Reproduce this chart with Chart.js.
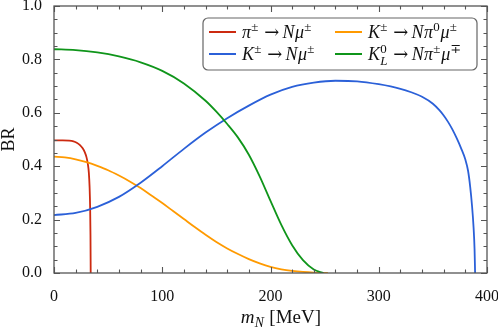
<!DOCTYPE html>
<html>
<head>
<meta charset="utf-8">
<script src="https://cdn.jsdelivr.net/npm/chart.js@4"></script>
<style>
  html, body { margin: 0; padding: 0; background: #fff; }
  canvas { display: block; }
</style>
</head>
<body>
<canvas id="chart" width="498" height="331"></canvas>
<script>
// pi -> N mu
const xPi  = [0, 8, 14, 18, 21, 24, 26.5, 28.5, 30, 31.2, 32.2, 32.9, 33.4, 33.7, 33.9];
const brPi = [0.497, 0.497, 0.496, 0.493, 0.488, 0.479, 0.467, 0.452, 0.434, 0.41, 0.375, 0.32, 0.24, 0.14, 0];

// K -> N pi0 mu
const xK3  = [0, 10, 20, 30, 40, 50, 60, 70, 80, 90, 100, 110, 120, 130, 140, 150, 160, 170, 180, 190, 200, 210, 220, 230, 240, 250, 253];
const brK3 = [0.436, 0.433, 0.426, 0.415, 0.401, 0.385, 0.365, 0.343, 0.318, 0.29, 0.262, 0.232, 0.202, 0.172, 0.143, 0.116, 0.092, 0.071, 0.052, 0.036, 0.023, 0.014, 0.008, 0.004, 0.0015, 0.0003, 0];

// K -> N mu
const xK2  = [0, 20, 40, 60, 80, 100, 120, 140, 160, 180, 200, 220, 240, 260, 280, 300, 320, 330, 340, 350, 356, 360, 364, 368, 372, 376, 380, 382.5, 384.5, 386.2, 387.6, 388.5, 389];
const brK2 = [0.217, 0.225, 0.248, 0.285, 0.338, 0.4, 0.465, 0.526, 0.58, 0.627, 0.668, 0.697, 0.713, 0.72, 0.718, 0.707, 0.69, 0.677, 0.66, 0.634, 0.61, 0.59, 0.566, 0.538, 0.505, 0.468, 0.425, 0.383, 0.322, 0.25, 0.17, 0.09, 0];

// KL -> N pi mu
const xKL  = [0, 20, 40, 60, 80, 100, 120, 140, 150, 160, 170, 180, 190, 200, 210, 220, 230, 240, 249];
const brKL = [0.838, 0.835, 0.826, 0.811, 0.789, 0.757, 0.71, 0.645, 0.604, 0.558, 0.507, 0.443, 0.362, 0.27, 0.18, 0.104, 0.048, 0.013, 0];

const xTicks = [0, 100, 200, 300, 400];
const yTicks = [0, 0.2, 0.4, 0.6, 0.8, 1.0];

const SERIF = '"Liberation Serif", "DejaVu Serif", serif';
const RED = '#cc2a10', ORANGE = '#ff9a00', BLUE = '#2b60d8', GREEN = '#0f951a';

const pts = (xs, ys) => xs.map((x, i) => ({ x: x, y: ys[i] }));

const ARROW = {t: '→', f: '"DejaVu Serif"', gl: 5, gr: 3};
const legendItems = [
  { color: RED, col: 0, row: 0, segs: [{t: 'π', i: 1}, {t: '±', p: 'sup'}, ARROW, {t: 'N', i: 1}, {t: 'μ', i: 1}, {t: '±', p: 'sup'}] },
  { color: ORANGE, col: 1, row: 0, segs: [{t: 'K', i: 1}, {t: '±', p: 'sup'}, ARROW, {t: 'N', i: 1}, {t: 'π', i: 1}, {t: '0', p: 'sup'}, {t: 'μ', i: 1}, {t: '±', p: 'sup'}] },
  { color: BLUE, col: 0, row: 1, segs: [{t: 'K', i: 1}, {t: '±', p: 'sup'}, ARROW, {t: 'N', i: 1}, {t: 'μ', i: 1}, {t: '±', p: 'sup'}] },
  { color: GREEN, col: 1, row: 1, segs: [{t: 'K', i: 1}, {t: '0', p: 'sup', sub: 'L'}, ARROW, {t: 'N', i: 1}, {t: 'π', i: 1}, {t: '±', p: 'sup'}, {t: 'μ', i: 1}, {t: '∓', p: 'sup'}] }
];

function richText(ctx, x, y, segs, size, draw) {
  segs.forEach(s => {
    const small = s.p ? size * 0.72 : size;
    ctx.font = (s.i ? 'italic ' : '') + small + 'px ' + (s.f || SERIF);
    const dy = s.p === 'sup' ? -size * 0.4 : s.p === 'sub' ? size * 0.22 : 0;
    x += s.gl || 0;
    let w = ctx.measureText(s.t).width;
    if (draw) ctx.fillText(s.t, x, y + dy);
    if (s.sub) {
      ctx.font = 'italic ' + small + 'px ' + SERIF;
      if (draw) ctx.fillText(s.sub, x, y + size * 0.25);
      w = Math.max(w, ctx.measureText(s.sub).width);
    }
    x += w + (s.gr || 0) + (s.p ? 0.8 : 0.3);
  });
  return x;
}

const decor = {
  id: 'decor',
  afterDatasetsDraw(chart) {
    const { ctx, chartArea: a, scales: { x, y } } = chart;
    ctx.save();
    ctx.strokeStyle = '#555';
    ctx.lineWidth = 1.1;
    ctx.beginPath();
    for (let v = 0; v <= 400; v += 20) {
      const px = Math.round(x.getPixelForValue(v)) + 0.5;
      const len = v % 100 === 0 ? 6 : 3.5;
      ctx.moveTo(px, a.bottom); ctx.lineTo(px, a.bottom - len);
      ctx.moveTo(px, a.top); ctx.lineTo(px, a.top + len);
    }
    for (let k = 0; k <= 20; k++) {
      const v = k * 0.05;
      const py = Math.round(y.getPixelForValue(v)) + 0.5;
      const len = k % 4 === 0 ? 6 : 3.5;
      ctx.moveTo(a.left, py); ctx.lineTo(a.left + len, py);
      ctx.moveTo(a.right, py); ctx.lineTo(a.right - len, py);
    }
    ctx.stroke();
    ctx.lineWidth = 1.3;
    ctx.strokeRect(a.left, a.top, a.right - a.left, a.bottom - a.top);

    // legend box
    const bx = 203, by = 18, bw = 274, bh = 52;
    ctx.beginPath();
    ctx.roundRect(bx, by, bw, bh, 5);
    ctx.fillStyle = 'rgba(255,255,255,0.9)';
    ctx.fill();
    ctx.strokeStyle = '#666';
    ctx.lineWidth = 1.2;
    ctx.stroke();
    legendItems.forEach(it => {
      const lx = it.col === 0 ? 209 : 335;
      const ly = it.row === 0 ? 32 : 54;
      ctx.strokeStyle = it.color;
      ctx.lineWidth = 2;
      ctx.beginPath();
      ctx.moveTo(lx, ly); ctx.lineTo(lx + 27, ly);
      ctx.stroke();
      ctx.fillStyle = '#111';
      ctx.textBaseline = 'alphabetic';
      ctx.textAlign = 'left';
      richText(ctx, lx + 33, ly + 6, it.segs, 18, true);
    });

    // x-axis title
    const segs = [{t: 'm', i: 1}, {t: 'N', i: 1, p: 'sub'}, {t: ' [MeV]'}];
    const w = richText(ctx, 0, 0, segs, 19, false);
    ctx.fillStyle = '#111';
    richText(ctx, 281 - w / 2, 323, segs, 19, true);
    ctx.restore();
  }
};

const ctx = document.getElementById('chart');
const line = (label, data, color) => ({
  label: label, data: data, borderColor: color, backgroundColor: color,
  borderWidth: 1.8, pointRadius: 0, cubicInterpolationMode: 'monotone', fill: false
});

new Chart(ctx, {
  type: 'line',
  data: {
    datasets: [
      line('KL', pts(xKL, brKL), GREEN),
      line('K2', pts(xK2, brK2), BLUE),
      line('K3', pts(xK3, brK3), ORANGE),
      line('pi', pts(xPi, brPi), RED)
    ]
  },
  options: {
    responsive: false,
    animation: false,
    layout: { padding: { top: 6, right: 11, left: 0, bottom: 0 } },
    plugins: { legend: { display: false }, tooltip: { enabled: false } },
    scales: {
      x: {
        type: 'linear', min: 0, max: 400,
        afterBuildTicks: s => { s.ticks = xTicks.map(v => ({ value: v })); },
        ticks: { color: '#111', font: { family: SERIF, size: 16 }, padding: 6, maxRotation: 0 },
        grid: { display: false },
        border: { display: false },
        afterFit: s => { s.height = 58; s.paddingLeft = 0; s.paddingRight = 0; }
      },
      y: {
        type: 'linear', min: 0, max: 1,
        afterBuildTicks: s => { s.ticks = yTicks.map(v => ({ value: v })); },
        ticks: { color: '#111', font: { family: SERIF, size: 16 }, padding: 4, callback: v => v.toFixed(1) },
        grid: { display: false },
        border: { display: false },
        title: { display: true, text: 'BR', color: '#111', font: { family: SERIF, size: 18, lineHeight: 1 }, padding: 0 },
        afterFit: s => { s.width = 54; s.paddingTop = 0; s.paddingBottom = 0; }
      }
    }
  },
  plugins: [decor]
});
</script>
</body>
</html>
